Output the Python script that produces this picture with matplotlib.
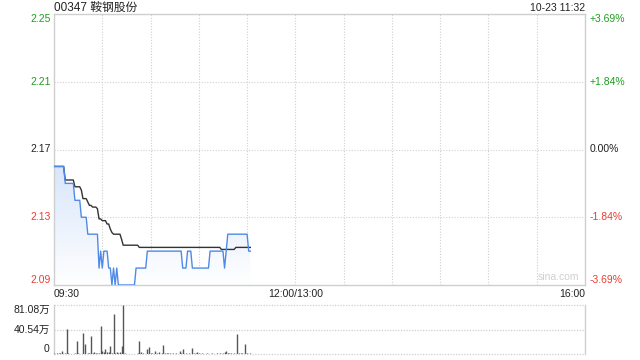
import numpy as np
import matplotlib
matplotlib.use("Agg")
import matplotlib.pyplot as plt
from matplotlib.colors import LinearSegmentedColormap

plt.rcParams['font.family'] = ['Liberation Sans', 'Noto Sans CJK SC', 'DejaVu Sans']

title = "00347 鞍钢股份"
stamp = "10-23 11:32"
prev_close = 2.17
price_ticks = [2.25, 2.21, 2.17, 2.13, 2.09]
pct_labels = ["+3.69%", "+1.84%", "0.00%", "-1.84%", "-3.69%"]
vol_ticks = [81.08, 40.54, 0]
vol_labels = ["81.08万", "40.54万", "0"]
time_labels = ["09:30", "12:00/13:00", "16:00"]

# one value per minute from 09:30 to 11:32
price = [
    2.16, 2.16, 2.16, 2.16, 2.16, 2.16, 2.16, 2.15, 2.15, 2.15,
    2.15, 2.15, 2.15, 2.14, 2.14, 2.14, 2.14, 2.13, 2.13, 2.13,
    2.13, 2.12, 2.12, 2.12, 2.12, 2.12, 2.12, 2.12, 2.10, 2.11,
    2.10, 2.11, 2.11, 2.11, 2.10, 2.10, 2.09, 2.10, 2.09, 2.10,
    2.09, 2.09, 2.09, 2.09, 2.09, 2.09, 2.09, 2.09, 2.09, 2.09,
    2.09, 2.10, 2.10, 2.10, 2.10, 2.10, 2.10, 2.10, 2.11, 2.11,
    2.11, 2.11, 2.11, 2.11, 2.11, 2.11, 2.11, 2.11, 2.11, 2.11,
    2.11, 2.11, 2.11, 2.11, 2.11, 2.11, 2.11, 2.11, 2.11, 2.11,
    2.10, 2.10, 2.10, 2.11, 2.11, 2.11, 2.10, 2.10, 2.10, 2.10,
    2.10, 2.10, 2.10, 2.10, 2.10, 2.10, 2.10, 2.11, 2.11, 2.11,
    2.11, 2.11, 2.11, 2.11, 2.11, 2.11, 2.10, 2.11, 2.12, 2.12,
    2.12, 2.12, 2.12, 2.12, 2.12, 2.12, 2.12, 2.12, 2.12, 2.12,
    2.12, 2.11, 2.11,
]
avg_price = [
    2.160, 2.160, 2.160, 2.160, 2.160, 2.160, 2.160, 2.152, 2.152, 2.152,
    2.152, 2.152, 2.152, 2.148, 2.148, 2.148, 2.148, 2.146, 2.141, 2.141,
    2.141, 2.139, 2.137, 2.137, 2.136, 2.136, 2.136, 2.135, 2.129, 2.129,
    2.128, 2.128, 2.128, 2.126, 2.126, 2.123, 2.121, 2.120, 2.120, 2.120,
    2.120, 2.120, 2.117, 2.1135, 2.1135, 2.1135, 2.1135, 2.1135, 2.1135, 2.1135,
    2.1135, 2.1135, 2.1135, 2.1122, 2.1122, 2.1122, 2.1122, 2.1122, 2.1122, 2.1122,
    2.1122, 2.1122, 2.1122, 2.1122, 2.1122, 2.1122, 2.1122, 2.1122, 2.1122, 2.1122,
    2.1122, 2.1122, 2.1122, 2.1122, 2.1122, 2.1122, 2.1122, 2.1122, 2.1122, 2.1122,
    2.1122, 2.1122, 2.1122, 2.1122, 2.1122, 2.1122, 2.1122, 2.1122, 2.1122, 2.1122,
    2.1122, 2.1122, 2.1122, 2.1122, 2.1122, 2.1122, 2.1122, 2.1122, 2.1122, 2.1122,
    2.1122, 2.1122, 2.1122, 2.1122, 2.111, 2.111, 2.111, 2.111, 2.111, 2.111,
    2.111, 2.111, 2.111, 2.1122, 2.1122, 2.1122, 2.1122, 2.1122, 2.1122, 2.1122,
    2.1122, 2.1122, 2.1122,
]
# volume in 万 shares per minute
volume = [
    1.5, 0.5, 1.0, 1.5, 1.0, 5.0, 0.5, 1.0, 41.4, 1.0,
    0.5, 0.3, 0.5, 1.0, 21.5, 1.0, 0.5, 0.5, 35.3, 17.0,
    0.5, 1.0, 2.0, 30.3, 1.0, 3.0, 1.0, 2.0, 1.5, 46.3,
    5.0, 3.5, 8.3, 2.5, 3.5, 13.2, 2.0, 66.2, 2.0, 3.5,
    1.0, 3.5, 13.2, 81.08, 2.0, 0.8, 0.5, 0.6, 0.4, 0.8,
    0.5, 0.7, 1.0, 21.5, 2.5, 1.0, 0.5, 0.8, 8.3, 11.6,
    2.0, 1.0, 0.8, 5.0, 1.0, 2.8, 0.5, 1.0, 14.9, 2.0,
    1.0, 1.5, 1.0, 0.8, 1.0, 0.6, 1.0, 0.8, 5.0, 1.0,
    8.3, 0.8, 1.0, 0.6, 1.2, 0.8, 10.0, 1.0, 1.0, 3.3,
    1.0, 0.8, 1.0, 0.6, 0.8, 1.0, 0.7, 0.8, 1.0, 0.6,
    0.8, 1.0, 0.7, 1.0, 0.8, 1.0, 3.9, 5.0, 2.0, 1.0,
    1.0, 0.8, 1.0, 0.7, 33.0, 1.5, 1.0, 1.0, 0.8, 16.5,
    1.5, 0.8, 1.0,
]

total_min = 330   # 09:30-12:00 + 13:00-16:00
minutes = np.arange(len(price))

green = '#1f9e1f'
red = '#ee3b30'
dark = '#222222'
grid_c = '#cfcfcf'
W, H = 640, 360

fig = plt.figure(figsize=(6.4, 3.6), dpi=100)
ax = fig.add_axes([54 / W, 1 - 285 / H, 531 / W, 271 / H])
axv = fig.add_axes([54 / W, 1 - 354 / H, 531 / W, 49 / H])

# --- price panel
for x in range(30, total_min, 30):
    ax.axvline(x, color=grid_c, lw=0.8, ls=(0, (1, 1.5)), zorder=0)
for y in price_ticks[1:-1]:
    ax.axhline(y, color=grid_c, lw=0.8, ls=(0, (1, 1.5)), zorder=0)

poly = ax.fill_between(minutes, price, price_ticks[-1], color='none', lw=0)
cmap = LinearSegmentedColormap.from_list('g', ['#ffffff', '#d8e6fb'])
grad = np.linspace(0, 1, 256).reshape(-1, 1)
im = ax.imshow(grad, cmap=cmap, aspect='auto', origin='lower',
               extent=[0, minutes[-1], price_ticks[-1], max(price)], zorder=1)
im.set_clip_path(poly.get_paths()[0], transform=ax.transData)
ax.set_xlim(0, total_min)
ax.set_ylim(price_ticks[-1], price_ticks[0])

ax.plot(minutes, avg_price, color='#333333', lw=1.0, zorder=3)
ax.plot(minutes, price, color='#4f8ae6', lw=1.0, zorder=4)

ax.set_xticks([])
ax.set_yticks([])
for s in ax.spines.values():
    s.set_color(grid_c)
    s.set_linewidth(1.0)

ytr = ax.get_yaxis_transform()
for i, (v, p) in enumerate(zip(price_ticks, pct_labels)):
    c = green if v > prev_close else (red if v < prev_close else dark)
    va = 'top' if i == 0 else ('bottom' if i == len(price_ticks) - 1 else 'center')
    ax.text(-0.006, v, f"{v:.2f}", transform=ytr, ha='right', va=va,
            fontsize=7.5, color=c)
    ax.text(1.009, v, p, transform=ytr, ha='left', va=va, fontsize=7.5, color=c)

ax.text(0.99, 0.01, "sina.com", transform=ax.transAxes, ha='right', va='bottom',
        fontsize=7.5, color='#d0d0d0')

fig.text(54 / W, 1 - 8 / H, title, ha='left', va='center', fontsize=8.5, color=dark)
fig.text(585 / W, 1 - 8 / H, stamp, ha='right', va='center', fontsize=7.5, color=dark)

# time labels
fig.text(54 / W, 1 - 294 / H, time_labels[0], ha='left', va='center', fontsize=7.5, color=dark)
fig.text((54 + 150 / total_min * 531) / W, 1 - 294 / H, time_labels[1], ha='center',
         va='center', fontsize=7.5, color=dark)
fig.text(585 / W, 1 - 294 / H, time_labels[2], ha='right', va='center', fontsize=7.5, color=dark)

# --- volume panel
axv.set_xlim(0, total_min)
axv.set_ylim(0, vol_ticks[0])
axv.vlines(minutes, 0, volume, color='#555555', lw=1.0, zorder=3)
for y in vol_ticks:
    axv.axhline(y, color=grid_c, lw=0.9, ls=(0, (1, 1.2)), zorder=0, clip_on=False)
axv.set_xticks([])
axv.set_yticks([])
for k in ['top', 'bottom']:
    axv.spines[k].set_visible(False)
for k in ['left', 'right']:
    axv.spines[k].set_color(grid_c)
    axv.spines[k].set_linewidth(1.0)
vtr = axv.get_yaxis_transform()
for i, (v, lab) in enumerate(zip(vol_ticks, vol_labels)):
    va = 'top' if i == 0 else ('bottom' if i == len(vol_ticks) - 1 else 'center')
    axv.text(-0.008, v, lab, transform=vtr, ha='right', va=va, fontsize=7.5, color=dark)

fig.savefig("out.png", dpi=100)
